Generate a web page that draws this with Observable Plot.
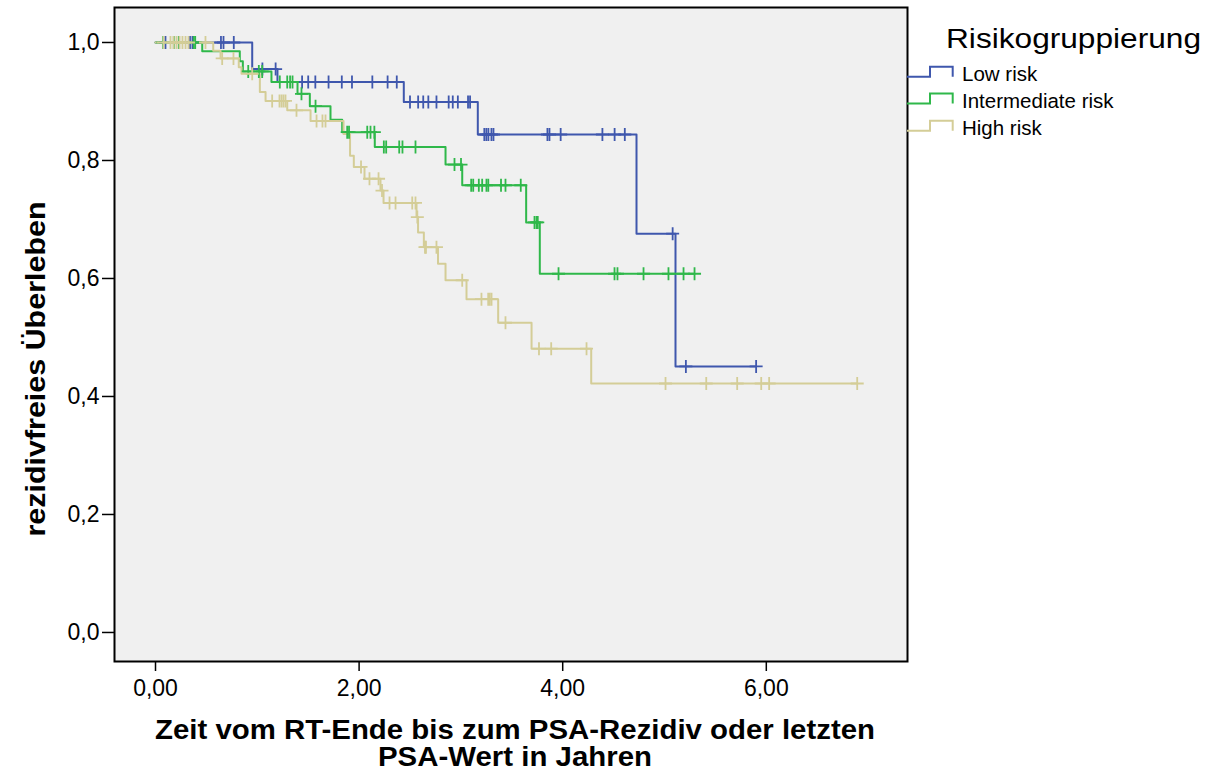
<!DOCTYPE html>
<html><head><meta charset="utf-8">
<script src="https://cdn.jsdelivr.net/npm/d3@7"></script>
<script src="https://cdn.jsdelivr.net/npm/@observablehq/plot@0.6"></script>
<style>body{margin:0;background:#fff} #chart{width:1220px;height:775px}</style>
</head><body><div id="chart"></div>
<script>
const groups = ["Low risk", "Intermediate risk", "High risk"];
const colors = ["#3f57ad", "#2fb84a", "#d4cd97"];
const xTicks = [0, 2, 4, 6];
const yTicks = [0, 0.2, 0.4, 0.6, 0.8, 1.0];

const lowEventTimes = [0.950, 1.198, 2.439, 3.166, 4.725, 5.108];
const lowEventSurv  = [0.955, 0.933, 0.899, 0.844, 0.676, 0.451];
const lowCensorTimes = [0.098, 0.339, 0.363, 0.643, 0.668, 0.769, 1.05, 1.18,
  1.44, 1.50, 1.57, 1.70, 1.83, 1.93, 2.13, 2.28, 2.37,
  2.50, 2.58, 2.63, 2.68, 2.76, 2.88, 2.92, 2.97, 3.07, 3.09,
  3.23, 3.25, 3.27, 3.30, 3.32, 3.85, 3.87, 3.98, 4.39, 4.51, 4.61,
  5.08, 5.21, 5.90];

const midEventTimes = [0.459, 0.828, 0.858, 1.139, 1.395, 1.516, 1.719, 1.834, 2.154, 2.849, 3.013, 3.641, 3.775];
const midEventSurv  = [0.985, 0.968, 0.951, 0.933, 0.913, 0.892, 0.869, 0.848, 0.823, 0.793, 0.758, 0.695, 0.608];
const midCensorTimes = [0.075, 0.180, 0.229, 0.376, 0.39, 0.911, 1.015, 1.048,
  1.221, 1.294, 1.322, 1.346, 1.434, 1.572,
  1.883, 1.901, 2.080, 2.112, 2.150, 2.243, 2.266, 2.394, 2.426, 2.554,
  2.937, 3.001, 3.101, 3.121, 3.176, 3.209, 3.251, 3.269, 3.394, 3.438, 3.588,
  3.723, 3.743, 3.755, 3.959, 4.509, 4.538, 4.794, 5.039, 5.187, 5.295];

const highEventTimes = [0.567, 0.639, 0.818, 0.845, 1.025, 1.081, 1.294, 1.523, 1.847, 1.911, 1.948, 2.053, 2.210, 2.240,
  2.564, 2.579, 2.636, 2.775, 2.849, 3.055, 3.366, 3.694, 4.280];
const highEventSurv  = [0.986, 0.973, 0.958, 0.947, 0.916, 0.901, 0.885, 0.867, 0.845, 0.808, 0.789, 0.769, 0.749, 0.728,
  0.704, 0.678, 0.653, 0.625, 0.597, 0.565, 0.525, 0.481, 0.422];
const highCensorTimes = [0.079, 0.147, 0.177, 0.206, 0.236, 0.265, 0.295, 0.324, 0.491,
  0.655, 0.766, 0.950, 1.146, 1.218, 1.238, 1.257, 1.277, 1.385, 1.582, 1.640, 1.670,
  2.019, 2.102, 2.191, 2.225, 2.299, 2.358, 2.522, 2.554, 2.572, 2.647, 2.657, 2.760,
  3.013, 3.202, 3.268, 3.284, 3.301, 3.438, 3.767, 3.887, 4.234,
  5.010, 5.410, 5.714, 5.950, 6.028, 6.893];

function build(group, times, surv, censor) {
  const survAt = t => { let s = 1; times.forEach((et, i) => { if (et <= t) s = surv[i]; }); return s; };
  const end = Math.max(...censor, ...times);
  const pts = [{group, t: 0, s: 1}, ...times.map((t, i) => ({group, t, s: surv[i]})), {group, t: end, s: survAt(end)}];
  const marks = censor.map(t => ({group, t, s: survAt(t)}));
  return {pts, marks};
}
const series = [
  build(groups[0], lowEventTimes, lowEventSurv, lowCensorTimes),
  build(groups[1], midEventTimes, midEventSurv, midCensorTimes),
  build(groups[2], highEventTimes, highEventSurv, highCensorTimes)
];
const linePts = series.flatMap(d => d.pts);
const censorPts = series.flatMap(d => d.marks);

const plusSymbol = {draw(ctx, size) { const r = Math.sqrt(size / Math.PI); ctx.moveTo(-r, 0); ctx.lineTo(r, 0); ctx.moveTo(0, -r); ctx.lineTo(0, r); }};
const fmt1 = d => d.toFixed(1).replace(".", ",");
const fmt2 = d => d.toFixed(2).replace(".", ",");

const chart = Plot.plot({
  width: 1220, height: 775,
  marginLeft: 114, marginRight: 313, marginTop: 7, marginBottom: 114,
  x: {domain: [-0.4028, 7.387]},
  y: {domain: [-0.0492, 1.0593]},
  color: {domain: groups, range: colors},
  style: {fontFamily: "'Liberation Sans', Arial, sans-serif", fontSize: "22px", color: "black", background: "white", overflow: "visible"},
  marks: [
    Plot.frame({fill: "#f0f0f0", stroke: null}),
    Plot.axisX(xTicks, {tickFormat: fmt2, tickSize: 10, tickPadding: 8, label: null, strokeWidth: 1.5, fontSize: 23}),
    Plot.axisY(yTicks, {tickFormat: fmt1, tickSize: 12, tickPadding: 3, label: null, strokeWidth: 1.5, fontSize: 23}),
    Plot.line(linePts, {x: "t", y: "s", z: "group", stroke: "group", curve: "step-after", strokeWidth: 2}),
    Plot.dot(censorPts, {x: "t", y: "s", stroke: "group", symbol: plusSymbol, r: 6.5, strokeWidth: 1.8}),
    Plot.frame({stroke: "black", strokeWidth: 2})
  ]
});
document.getElementById("chart").appendChild(chart);

const svg = d3.select(chart);
const font = "'Liberation Sans', Arial, sans-serif";
svg.append("text").attr("transform", "translate(45,369) rotate(-90)").attr("text-anchor", "middle")
  .attr("font-family", font).attr("font-weight", "bold").attr("font-size", 28)
  .attr("textLength", 335).attr("lengthAdjust", "spacingAndGlyphs").text("rezidivfreies Überleben");
svg.append("text").attr("x", 515).attr("y", 739).attr("text-anchor", "middle")
  .attr("font-family", font).attr("font-weight", "bold").attr("font-size", 27)
  .attr("textLength", 720).attr("lengthAdjust", "spacingAndGlyphs").text("Zeit vom RT-Ende bis zum PSA-Rezidiv oder letzten");
svg.append("text").attr("x", 515).attr("y", 766).attr("text-anchor", "middle")
  .attr("font-family", font).attr("font-weight", "bold").attr("font-size", 27)
  .attr("textLength", 274).attr("lengthAdjust", "spacingAndGlyphs").text("PSA-Wert in Jahren");

const lg = svg.append("g").attr("font-family", font).attr("text-anchor", "start");
lg.append("text").attr("x", 946).attr("y", 48).attr("font-size", 28).attr("text-anchor", "start")
  .attr("textLength", 255).attr("lengthAdjust", "spacingAndGlyphs").text("Risikogruppierung");
const itemTop = [66.7, 93.5, 120.7];
groups.forEach((g, i) => {
  const y0 = itemTop[i], y1 = y0 + 10;
  lg.append("path").attr("d", `M907,${y1}H930V${y0}H952.7V${y1}`).attr("fill", "none").attr("stroke", colors[i]).attr("stroke-width", 2);
  lg.append("text").attr("x", 962).attr("y", y1 + 4.5).attr("font-size", 20.5).attr("text-anchor", "start").text(g);
});
</script>
</body></html>
